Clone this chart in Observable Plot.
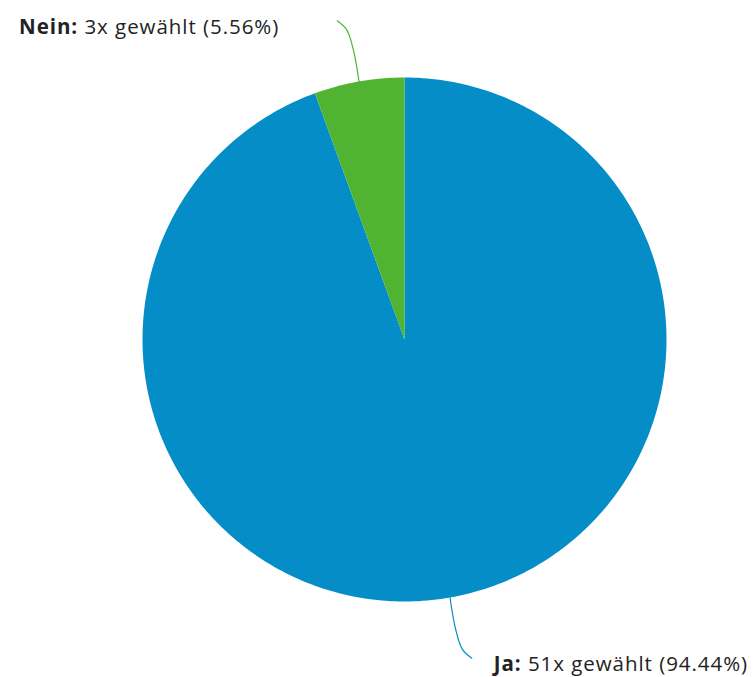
<!DOCTYPE html>
<html>
<head>
<meta charset="utf-8">
<script src="https://cdn.jsdelivr.net/npm/d3@7"></script>
<script src="https://cdn.jsdelivr.net/npm/@observablehq/plot@0.6"></script>
<style>
  html, body { margin: 0; padding: 0; background: #fff; }
  #chart svg { display: block; }
  #chart text { letter-spacing: 0.95px; }
</style>
</head>
<body>
<div id="chart"></div>
<script>
// Data
const categories = ["Ja", "Nein"];
const counts = [51, 3];
const percents = [94.44, 5.56];
const colors = ["#058DC7", "#50B432"];

// Pie geometry (start at 12 o'clock, clockwise)
const total = d3.sum(counts);
let acc = 0;
const slices = categories.map((c, i) => {
  const a0 = acc / total * 2 * Math.PI;
  acc += counts[i];
  const a1 = acc / total * 2 * Math.PI;
  return {category: c, a0, a1, mid: (a0 + a1) / 2, i};
});

const polyRows = [];
for (const s of slices) {
  polyRows.push({category: s.category, x: 0, y: 0});
  const n = Math.max(2, Math.ceil((s.a1 - s.a0) / (Math.PI / 180)));
  for (let k = 0; k <= n; k++) {
    const a = s.a0 + (s.a1 - s.a0) * k / n;
    polyRows.push({category: s.category, x: Math.sin(a), y: Math.cos(a)});
  }
  polyRows.push({category: s.category, x: 0, y: 0});
}

// connectors
const connRows = [];
const labelRows = [];
for (const s of slices) {
  const sx = Math.sin(s.mid), sy = Math.cos(s.mid);
  const side = sx < 0 ? -1 : 1;
  const pts = [
    [sx, sy],
    [sx * 1.12, sy * 1.12],
    [sx * 1.2 + side * 0.012, sy * 1.2],
    [sx * 1.22 + side * 0.045, sy * 1.22 + (sy > 0 ? 0.015 : -0.015)]
  ];
  pts.forEach(([x, y], k) => connRows.push({category: s.category, x, y, k}));
  const end = pts[pts.length - 1];
  labelRows.push({
    category: s.category,
    x: end[0], y: end[1],
    side,
    text: `${s.category}: ${counts[s.i]}x gewählt (${percents[s.i].toFixed(2)}%)`
  });
}

const chart = Plot.plot({
  width: 754,
  height: 677,
  marginLeft: 142,
  marginRight: 88,
  marginTop: 77,
  marginBottom: 76,
  x: {domain: [-1, 1], axis: null},
  y: {domain: [-1, 1], axis: null},
  color: {domain: categories, range: colors},
  style: {fontFamily: "'Open Sans', sans-serif", overflow: "visible"},
  marks: [
    Plot.line(polyRows, {x: "x", y: "y", z: "category", fill: "category", stroke: "none", curve: "linear"}),
    Plot.line(connRows, {x: "x", y: "y", z: "category", stroke: "category", strokeWidth: 1.2, curve: "catmull-rom"}),
    Plot.text(labelRows.filter(d => d.side < 0), {x: "x", y: "y", text: "text", textAnchor: "end", dx: -58, dy: 7, fontSize: 20.5, fill: "#222"}),
    Plot.text(labelRows.filter(d => d.side > 0), {x: "x", y: "y", text: "text", textAnchor: "start", dx: 22, dy: 6, fontSize: 20.5, fill: "#222"})
  ]
});

// bold the "Category:" prefix
d3.select(chart).selectAll("g[aria-label='text'] text").each(function() {
  const t = this.textContent;
  const idx = t.indexOf(":");
  if (idx < 0) return;
  const sel = d3.select(this);
  sel.text(null);
  sel.append("tspan").attr("font-weight", "bold").text(t.slice(0, idx + 1));
  sel.append("tspan").text(t.slice(idx + 1));
});

document.getElementById("chart").appendChild(chart);
</script>
</body>
</html>
